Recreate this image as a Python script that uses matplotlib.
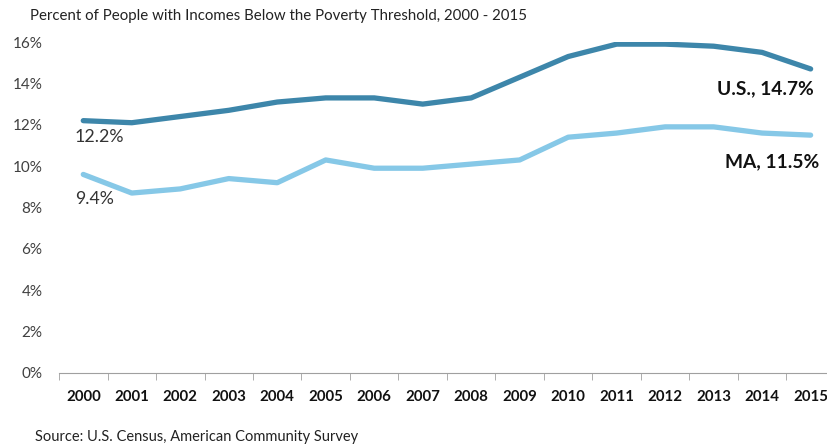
import matplotlib.pyplot as plt
from matplotlib.ticker import FixedLocator

years = [str(y) for y in range(2000, 2016)]
us_rate = [12.2, 12.1, 12.4, 12.7, 13.1, 13.3, 13.3, 13.0, 13.3, 14.3, 15.3, 15.9, 15.9, 15.8, 15.5, 14.7]
ma_rate = [9.6, 8.7, 8.9, 9.4, 9.2, 10.3, 9.9, 9.9, 10.1, 10.3, 11.4, 11.6, 11.9, 11.9, 11.6, 11.5]
y_ticks = [0, 2, 4, 6, 8, 10, 12, 14, 16]

plt.rcParams['font.family'] = ['Lato', 'DejaVu Sans']

fig = plt.figure(figsize=(8.28, 4.46), dpi=100)
ax = fig.add_axes([0.0713, 0.1637, 0.937, 0.742])

x = list(range(len(years)))
ax.plot(x, us_rate, color='#3d86aa', linewidth=3.8, solid_capstyle='round')
ax.plot(x, ma_rate, color='#86c8e7', linewidth=3.8, solid_capstyle='round')

ax.set_xlim(-0.5, 15.5)
ax.set_ylim(0, 16)
ax.set_xticks(x)
ax.set_xticklabels(years, fontsize=10.8, fontweight='bold', color='#111111')
ax.xaxis.set_minor_locator(FixedLocator([i - 0.5 for i in range(len(years) + 1)]))
ax.tick_params(axis='x', which='major', length=0, pad=12)
ax.tick_params(axis='x', which='minor', length=5, color='#a0a0a0', direction='out')

ax.set_yticks(y_ticks)
ax.set_yticklabels([f'{v}%' for v in y_ticks], fontsize=11, color='#404040')
ax.tick_params(axis='y', length=0, pad=12)

for side in ['top', 'right', 'left']:
    ax.spines[side].set_visible(False)
ax.spines['bottom'].set_color('#a0a0a0')

# etiquetas de datos
ax.annotate('12.2%', xy=(0, us_rate[0]), xytext=(-6, -12), textcoords='offset points',
            fontsize=12.8, color='#333333', ha='left', va='center')
ax.annotate('9.4%', xy=(0, ma_rate[0]), xytext=(-6, -18), textcoords='offset points',
            fontsize=12.8, color='#333333', ha='left', va='center')
ax.annotate('U.S., 14.7%', xy=(15, us_rate[-1]), xytext=(2, -14), textcoords='offset points',
            fontsize=13.8, fontweight='bold', color='#111111', ha='right', va='center')
ax.annotate('MA, 11.5%', xy=(15, ma_rate[-1]), xytext=(6, -19), textcoords='offset points',
            fontsize=13.8, fontweight='bold', color='#111111', ha='right', va='center')

fig.text(30 / 828, 1 - 16 / 446, 'Percent of People with Incomes Below the Poverty Threshold, 2000 - 2015',
         fontsize=10.8, color='#222222', ha='left', va='center')
fig.text(35 / 828, 1 - 437 / 446, 'Source: U.S. Census, American Community Survey',
         fontsize=10.5, color='#222222', ha='left', va='center')

fig.savefig('out.png', dpi=100)
